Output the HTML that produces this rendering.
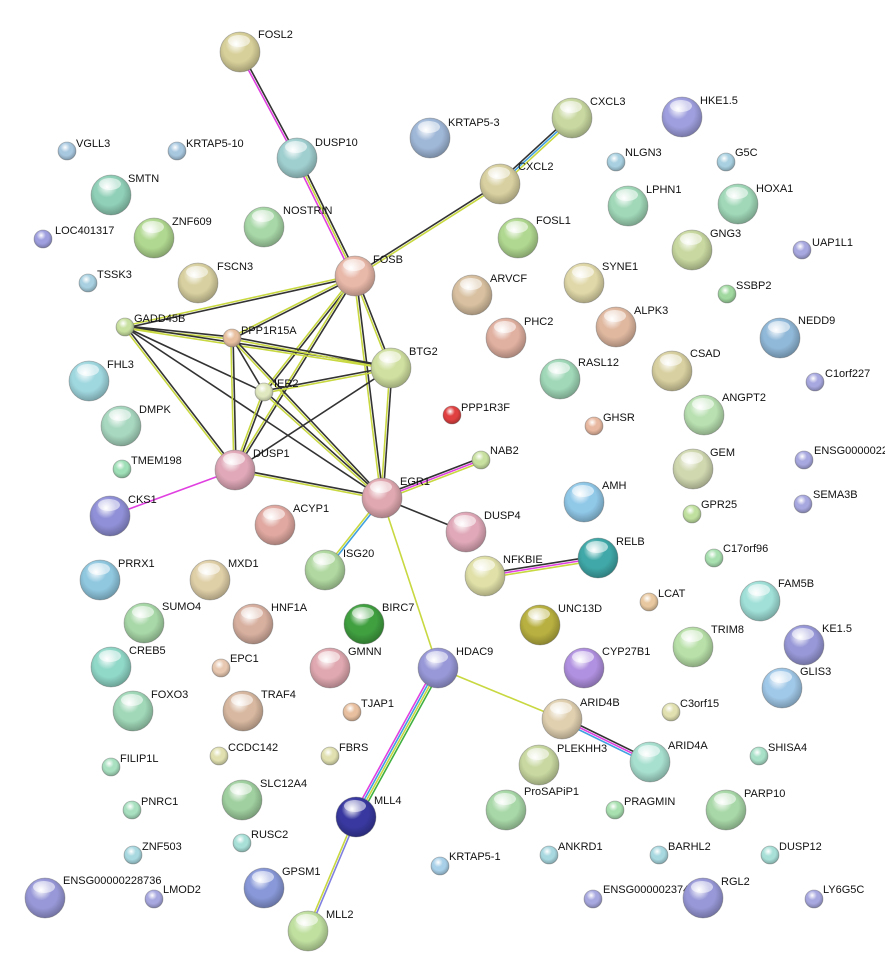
<!DOCTYPE html>
<html><head><meta charset="utf-8"><style>
html,body{margin:0;padding:0;background:#fff;}
svg{display:block}
text{font-family:"Liberation Sans",sans-serif;font-size:11px;fill:#111}
</style></head><body>
<svg id="s" width="885" height="976" xmlns="http://www.w3.org/2000/svg"></svg>
<script>
const N={
FOSL2:[240,52,20,'#d8d09a',258,34],DUSP10:[297,158,20,'#a0cfd0',315,142],'KRTAP5-3':[430,138,20,'#a0b8d8',448,122],
CXCL3:[572,118,20,'#c8d8a0',590,101],'HKE1.5':[682,117,20,'#9f9fdf',700,100],VGLL3:[67,151,9,'#a8c8e0',76,143],
'KRTAP5-10':[177,151,9,'#a8c8e0',186,143],NLGN3:[616,162,9,'#a8d0e0',625,152],G5C:[726,162,9,'#a8d0e0',735,152],
SMTN:[111,195,20,'#90d0b8',128,178],CXCL2:[500,184,20,'#d8d0a0',518,166],LPHN1:[628,206,20,'#a0d8b8',646,189],
HOXA1:[738,204,20,'#a0d8b8',756,188],NOSTRIN:[264,227,20,'#a8d8a8',283,210],ZNF609:[154,238,20,'#b0d890',172,221],
LOC401317:[43,239,9,'#9f9fdf',55,230],FOSL1:[518,238,20,'#b0d890',536,220],GNG3:[692,250,20,'#c8d8a0',710,233],
UAP1L1:[802,250,9,'#a8a8e0',812,242],TSSK3:[88,283,9,'#a8d0e0',97,274],FSCN3:[198,283,20,'#d8d0a0',217,266],
FOSB:[355,276,20,'#e8b8a8',373,259],ARVCF:[472,295,20,'#d8c0a0',490,278],SYNE1:[584,283,20,'#e0d8a8',602,266],
SSBP2:[727,294,9,'#a0d8a0',736,285],GADD45B:[125,327,9,'#c8e0a0',134,318],PPP1R15A:[232,338,9,'#e8c0a0',241,330],
ALPK3:[616,327,20,'#e0b8a0',634,310],PHC2:[506,338,20,'#e0b0a0',524,321],NEDD9:[780,338,20,'#90b8d8',798,320],
BTG2:[391,368,20,'#d0e0a0',409,351],CSAD:[672,371,20,'#d8d0a0',690,353],RASL12:[560,379,20,'#a0d8b8',578,362],
IER2:[264,392,9,'#e0e8c0',274,383],C1orf227:[815,382,9,'#a8a8e0',825,373],FHL3:[89,381,20,'#a0d8e0',107,364],
PPP1R3F:[452,415,9,'#e04040',461,407],GHSR:[594,426,9,'#e8b8a0',603,417],ANGPT2:[704,415,20,'#b8e0b0',722,397],
DMPK:[121,426,20,'#a8d8c0',139,409],NAB2:[481,460,9,'#c8e0a0',490,450],GEM:[693,469,20,'#d0d8b0',710,452],
ENSG0000022:[804,460,9,'#a8a8e0',814,450],TMEM198:[122,469,9,'#a0e0b8',131,460],DUSP1:[235,470,20,'#e0a8b8',253,453],
EGR1:[382,498,20,'#e0a8b0',400,481],AMH:[584,502,20,'#90c8e8',602,485],SEMA3B:[803,504,9,'#a8a8e0',813,494],
CKS1:[110,516,20,'#9090d8',128,499],GPR25:[692,514,9,'#c0e0a0',701,504],ACYP1:[275,525,20,'#e0a8a0',293,508],
DUSP4:[466,532,20,'#e0a8b8',484,515],RELB:[598,558,20,'#40a8a8',616,541],C17orf96:[714,558,9,'#a8e0b0',723,548],
ISG20:[325,570,20,'#b0d8a0',343,553],NFKBIE:[485,576,20,'#e0e0a8',503,559],PRRX1:[100,580,20,'#90c8e0',118,563],
MXD1:[210,580,20,'#e0d0a8',228,563],FAM5B:[760,601,20,'#a0e0d8',778,583],LCAT:[649,602,9,'#e8c8a0',658,593],
SUMO4:[144,623,20,'#a8d8a8',162,606],HNF1A:[253,624,20,'#d8b0a0',271,607],BIRC7:[364,624,20,'#40a040',382,607],
UNC13D:[540,625,20,'#b8b040',558,608],'KE1.5':[804,645,20,'#9898d8',822,628],CREB5:[111,667,20,'#90d8c8',129,650],
TRIM8:[693,647,20,'#b8e0a8',711,629],EPC1:[221,668,9,'#e8c8b0',230,658],GMNN:[330,668,20,'#e0a8b0',348,651],
CYP27B1:[584,668,20,'#b090e0',602,651],HDAC9:[438,668,20,'#9898d8',456,651],GLIS3:[782,688,20,'#a0c8e8',800,671],
FOXO3:[133,711,20,'#a0d8b8',151,694],TRAF4:[243,711,20,'#d8b8a0',261,694],TJAP1:[352,712,9,'#e8c0a0',361,703],
C3orf15:[671,712,9,'#e0e0b0',680,703],ARID4B:[562,719,20,'#e0d0b0',580,702],CCDC142:[219,756,9,'#e0e0b0',228,747],
FBRS:[330,756,9,'#e0e0b0',339,747],PLEKHH3:[539,765,20,'#c8d8a0',557,748],ARID4A:[650,762,20,'#a8e0d0',668,745],
SHISA4:[759,756,9,'#a8e0c8',768,747],FILIP1L:[111,767,9,'#a8e0c0',120,758],SLC12A4:[242,800,20,'#a0d0a0',260,783],
ProSAPiP1:[506,810,20,'#a8d8a8',524,791],PRAGMIN:[615,810,9,'#a8e0b0',624,801],PARP10:[726,810,20,'#a8d8a8',744,793],
PNRC1:[132,810,9,'#a8e0c0',141,801],MLL4:[356,817,20,'#3838a0',374,800],RUSC2:[242,843,9,'#a8e0d8',251,834],
ZNF503:[133,855,9,'#a8d8e0',142,846],ANKRD1:[549,855,9,'#a8d8e0',558,846],BARHL2:[659,855,9,'#a8d8e0',668,846],
DUSP12:[770,855,9,'#a8e0d8',779,846],'KRTAP5-1':[440,866,9,'#a8d0e8',449,856],GPSM1:[264,888,20,'#8898d8',282,871],
ENSG00000228736:[45,898,20,'#9898d8',63,880],LMOD2:[154,899,9,'#a8a8e0',163,889],ENSG00000237495:[593,899,9,'#a8a8e0',603,889],
RGL2:[703,898,20,'#9898d8',721,881],LY6G5C:[814,899,9,'#a8a8e0',823,889],MLL2:[308,931,20,'#c0e0a0',326,914]};
const K='#333',Y='#c8d840',M='#e040e0',B='#40a0e0',G='#40b040',P='#8080e0';
const E=[['FOSL2','DUSP10',[K,M]],['DUSP10','FOSB',[K,Y,M]],['FOSB','CXCL2',[K,Y]],['CXCL2','CXCL3',[K,B,Y]],
['FOSB','GADD45B',[K,Y]],['FOSB','PPP1R15A',[K,Y]],['FOSB','IER2',[K,Y]],['FOSB','BTG2',[K,Y]],['FOSB','DUSP1',[K,Y]],['FOSB','EGR1',[K,Y]],
['GADD45B','PPP1R15A',[K,Y]],['GADD45B','BTG2',[K,Y]],['GADD45B','IER2',[K]],['GADD45B','DUSP1',[K,Y]],['GADD45B','EGR1',[K]],
['PPP1R15A','BTG2',[K,Y]],['PPP1R15A','IER2',[K]],['PPP1R15A','DUSP1',[K,Y]],['PPP1R15A','EGR1',[K,Y]],
['IER2','BTG2',[K,Y]],['IER2','DUSP1',[K,Y]],['IER2','EGR1',[K,Y]],['BTG2','DUSP1',[K]],['BTG2','EGR1',[K,Y]],
['DUSP1','EGR1',[K,Y]],['DUSP1','CKS1',[M]],['EGR1','NAB2',[K,M,Y]],['EGR1','DUSP4',[K]],['EGR1','ISG20',[B,Y]],
['EGR1','HDAC9',[Y]],['NFKBIE','RELB',[K,M,Y]],['HDAC9','ARID4B',[Y]],['HDAC9','MLL4',[G,Y,B,M]],
['ARID4B','ARID4A',[K,M,B]],['MLL4','MLL2',[P,Y]]];
let s='<defs><radialGradient id="sh" cx="0.45" cy="0.4" r="0.6"><stop offset="0.6" stop-color="#000" stop-opacity="0"/><stop offset="1" stop-color="#000" stop-opacity="0.25"/></radialGradient>';let i=0;const ids={};
for(const k in N){const c=N[k][3];ids[k]='g'+i++;
s+=`<radialGradient id="${ids[k]}" cx="0.4" cy="0.3" r="0.75"><stop offset="0" stop-color="#fff"/><stop offset="0.35" stop-color="${c}"/><stop offset="1" stop-color="${c}"/></radialGradient>`;}
s+='</defs>';
for(const [a,b,cs] of E){const A=N[a],Bn=N[b];const dx=Bn[0]-A[0],dy=Bn[1]-A[1],L=Math.hypot(dx,dy);const nx=-dy/L,ny=dx/L;
cs.forEach((c,j)=>{const o=(j-(cs.length-1)/2)*2.2;
s+=`<line x1="${A[0]+nx*o}" y1="${A[1]+ny*o}" x2="${Bn[0]+nx*o}" y2="${Bn[1]+ny*o}" stroke="${c}" stroke-width="1.6"/>`;});}
for(const k in N){const [x,y,r,c,lx,ly]=N[k];
s+=`<circle cx="${x}" cy="${y}" r="${r}" fill="url(#${ids[k]})" stroke="#777" stroke-opacity="0.5" stroke-width="0.8"/>`;
s+=`<circle cx="${x}" cy="${y}" r="${r}" fill="url(#sh)"/>`;
if(r>15)s+=`<ellipse cx="${x-1}" cy="${y-r*0.55}" rx="${r*0.55}" ry="${r*0.3}" fill="#fff" opacity="0.55"/>`;
s+=`<text x="${lx}" y="${ly+4}">${k}</text>`;}
document.getElementById('s').innerHTML=s;
</script>
</body></html>
